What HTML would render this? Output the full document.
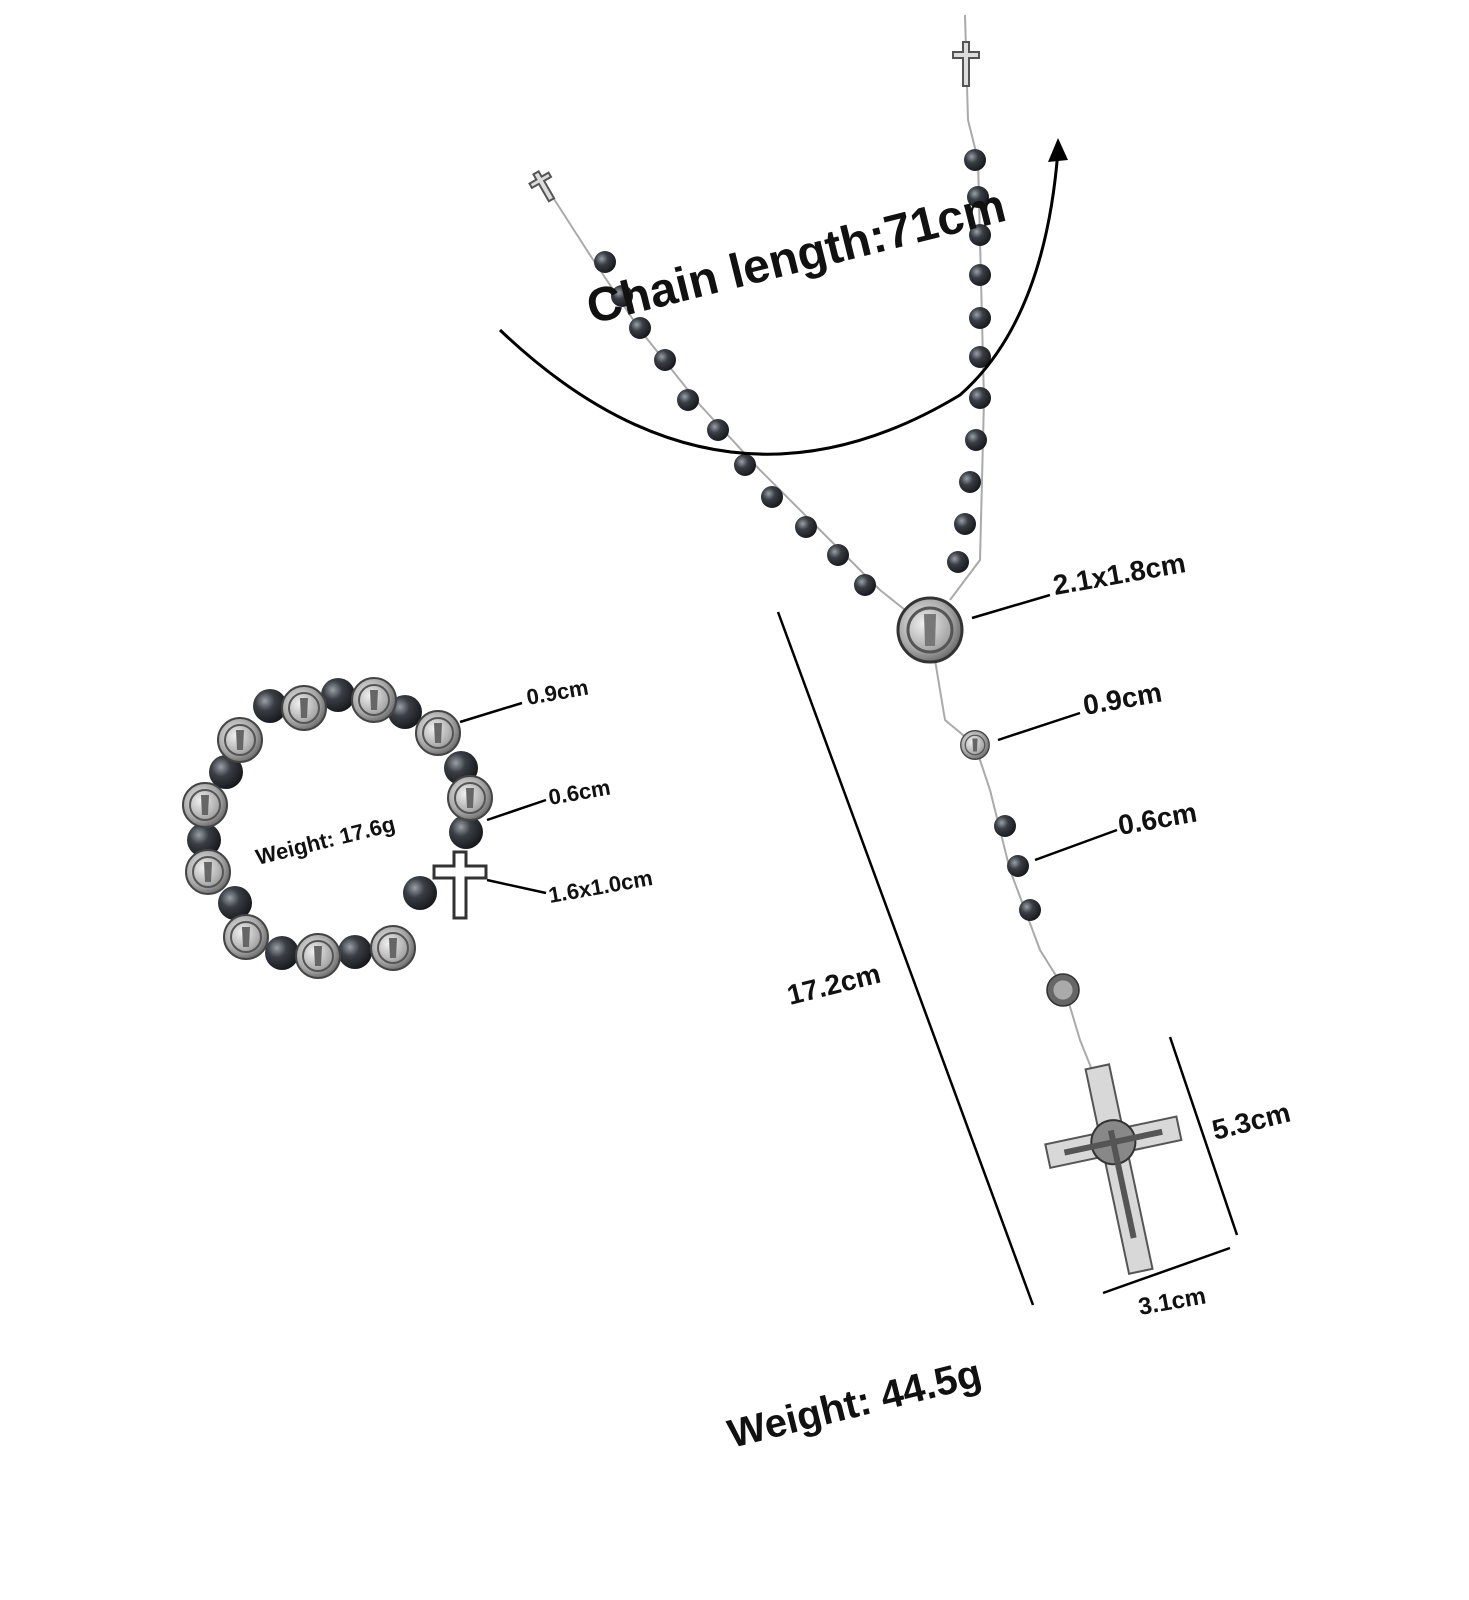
<!DOCTYPE html>
<html><head><meta charset="utf-8"><style>
html,body{margin:0;padding:0;background:#fff;}
svg{display:block;}
text{font-family:"Liberation Sans",sans-serif;font-weight:bold;fill:#111;}
</style></head><body>
<svg width="1469" height="1600" viewBox="0 0 1469 1600" xmlns="http://www.w3.org/2000/svg">
<defs>
<radialGradient id="bead" cx="35%" cy="35%" r="70%"><stop offset="0" stop-color="#9aa0a8"/><stop offset="0.4" stop-color="#3a3e45"/><stop offset="1" stop-color="#15171a"/></radialGradient>
<radialGradient id="medal" cx="40%" cy="40%" r="70%"><stop offset="0" stop-color="#f0f0f0"/><stop offset="0.6" stop-color="#a8a8a8"/><stop offset="1" stop-color="#555"/></radialGradient>
<g id="b"><circle r="11" fill="url(#bead)"/></g>
<g id="bb"><circle r="17" fill="url(#bead)"/></g>
<g id="m"><circle r="22" fill="url(#medal)" stroke="#444" stroke-width="2"/><circle r="15" fill="none" stroke="#555" stroke-width="2"/><path d="M-4,-10 L4,-10 L3,10 L-3,10Z" fill="#666"/></g>
</defs>
<polyline points="965,15 968,120 978,160 984,400 980,560 950,600" fill="none" stroke="#aaa" stroke-width="2"/>
<polyline points="545,185 590,255 640,330 700,405 760,470 830,540 880,590 905,610" fill="none" stroke="#aaa" stroke-width="2"/>
<polyline points="935,660 945,720 975,745 990,790 1010,870 1040,950 1065,990 1080,1040 1092,1070" fill="none" stroke="#aaa" stroke-width="2"/>
<g transform="translate(966,62)"><path d="M-3,-20 h6 v10 h10 v6 h-10 v28 h-6 v-28 h-10 v-6 h10z" fill="#ddd" stroke="#555" stroke-width="2"/></g>
<g transform="translate(543,185) rotate(-30)"><path d="M-3,-14 h6 v6 h8 v5 h-8 v20 h-6 v-20 h-8 v-5 h8z" fill="#ddd" stroke="#555" stroke-width="2"/></g>
<use href="#b" x="975" y="160"/><use href="#b" x="978" y="197"/><use href="#b" x="980" y="235"/><use href="#b" x="980" y="275"/><use href="#b" x="980" y="318"/><use href="#b" x="980" y="357"/><use href="#b" x="980" y="398"/><use href="#b" x="976" y="440"/><use href="#b" x="970" y="482"/><use href="#b" x="965" y="524"/><use href="#b" x="958" y="562"/>
<use href="#b" x="605" y="262"/><use href="#b" x="622" y="296"/><use href="#b" x="640" y="328"/><use href="#b" x="665" y="360"/><use href="#b" x="688" y="400"/><use href="#b" x="718" y="430"/><use href="#b" x="745" y="465"/><use href="#b" x="772" y="497"/><use href="#b" x="806" y="527"/><use href="#b" x="838" y="555"/><use href="#b" x="865" y="585"/>
<g transform="translate(930,630)"><circle r="32" fill="url(#medal)" stroke="#333" stroke-width="3"/><circle r="22" fill="none" stroke="#555" stroke-width="3"/><path d="M-6,-16 L6,-16 L5,16 L-5,16Z" fill="#777"/></g>
<g transform="translate(975,745) scale(0.65)"><use href="#m"/></g>
<use href="#b" x="1005" y="826"/><use href="#b" x="1018" y="866"/><use href="#b" x="1030" y="910"/>
<g transform="translate(1063,990) scale(0.8)"><circle r="20" fill="#666" stroke="#333" stroke-width="2"/><circle r="12" fill="#aaa"/></g>
<g transform="translate(1115,1150) rotate(-12)">
<path d="M-12,-85 h24 v65 h55 v24 h-55 v120 h-24 v-120 h-55 v-24 h55z" fill="#d8d8d8" stroke="#555" stroke-width="2"/>
<circle cx="0" cy="-8" r="22" fill="#888" stroke="#333" stroke-width="2"/>
<path d="M-50,-8 L50,-8 M0,-20 L0,90" stroke="#555" stroke-width="6"/>
</g>
<path d="M500,330 Q720,540 960,395 Q1045,320 1058,150" fill="none" stroke="#000" stroke-width="3"/>
<path d="M1058,138 L1048,162 L1068,160Z" fill="#000"/>
<text x="800" y="272" font-size="48" text-anchor="middle" transform="rotate(-14 800 272)">Chain length:71cm</text>
<g stroke="#000" stroke-width="2.5" fill="none">
<line x1="972" y1="618" x2="1050" y2="595"/>
<line x1="998" y1="740" x2="1080" y2="713"/>
<line x1="1035" y1="860" x2="1117" y2="830"/>
<line x1="778" y1="612" x2="1033" y2="1305"/>
<line x1="1170" y1="1037" x2="1237" y2="1235"/>
<line x1="1103" y1="1293" x2="1230" y2="1248"/>
<line x1="460" y1="722" x2="522" y2="703"/>
<line x1="487" y1="820" x2="546" y2="800"/>
<line x1="487" y1="880" x2="546" y2="893"/>
</g>
<text x="1055" y="595" font-size="28" transform="rotate(-10 1055 595)">2.1x1.8cm</text>
<text x="1085" y="715" font-size="28" transform="rotate(-10 1085 715)">0.9cm</text>
<text x="1120" y="835" font-size="28" transform="rotate(-10 1120 835)">0.6cm</text>
<text x="790" y="1005" font-size="28" transform="rotate(-14 790 1005)">17.2cm</text>
<text x="1215" y="1140" font-size="28" transform="rotate(-14 1215 1140)">5.3cm</text>
<text x="1140" y="1315" font-size="24" transform="rotate(-10 1140 1315)">3.1cm</text>
<text x="732" y="1448" font-size="40" transform="rotate(-14 732 1448)">Weight: 44.5g</text>
<g>
<use href="#bb" x="270" y="706"/><use href="#bb" x="338" y="695"/><use href="#bb" x="405" y="712"/><use href="#bb" x="461" y="768"/><use href="#bb" x="466" y="832"/><use href="#bb" x="420" y="893"/><use href="#bb" x="355" y="952"/><use href="#bb" x="282" y="953"/><use href="#bb" x="235" y="903"/><use href="#bb" x="204" y="840"/><use href="#bb" x="226" y="772"/>
<g transform="translate(240,740)"><use href="#m"/></g>
<g transform="translate(304,708)"><use href="#m"/></g>
<g transform="translate(374,700)"><use href="#m"/></g>
<g transform="translate(438,733)"><use href="#m"/></g>
<g transform="translate(470,798)"><use href="#m"/></g>
<g transform="translate(393,948)"><use href="#m"/></g>
<g transform="translate(318,956)"><use href="#m"/></g>
<g transform="translate(246,937)"><use href="#m"/></g>
<g transform="translate(208,872)"><use href="#m"/></g>
<g transform="translate(205,805)"><use href="#m"/></g>
<g transform="translate(460,880)"><path d="M-6,-28 h12 v14 h20 v12 h-20 v40 h-12 v-40 h-20 v-12 h20z" fill="#fff" stroke="#333" stroke-width="3"/></g>
</g>
<text x="258" y="865" font-size="22" transform="rotate(-14 258 865)">Weight: 17.6g</text>
<text x="528" y="705" font-size="22" transform="rotate(-10 528 705)">0.9cm</text>
<text x="550" y="805" font-size="22" transform="rotate(-10 550 805)">0.6cm</text>
<text x="550" y="903" font-size="22" transform="rotate(-10 550 903)">1.6x1.0cm</text>
</svg>
</body></html>
